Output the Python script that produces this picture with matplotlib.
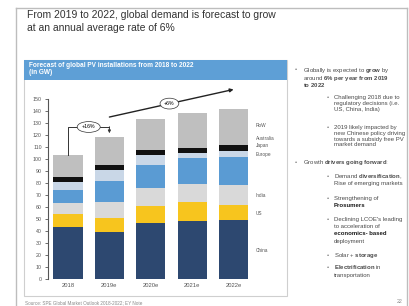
import numpy as np
import matplotlib
matplotlib.use("Agg")
import matplotlib.pyplot as plt
from matplotlib.patches import Rectangle

plt.rcParams['font.family'] = ['Liberation Sans', 'DejaVu Sans']
plt.rcParams['mathtext.fontset'] = 'custom'
plt.rcParams['mathtext.rm'] = 'Liberation Sans'
plt.rcParams['mathtext.it'] = 'Liberation Sans:italic'
plt.rcParams['mathtext.bf'] = 'Liberation Sans:bold'

# data (GW)
years = ['2018', '2019e', '2020e', '2021e', '2022e']
regions = ['China', 'US', 'India', 'Europe', 'Japan', 'Australia', 'RoW']
china = [43.5, 39, 46.5, 48, 49]
us = [10.5, 12, 14.5, 16, 13]
india = [9, 13, 14.5, 15, 16]
europe = [11, 18, 19.5, 22, 24]
japan = [7, 8.5, 8, 4, 4.5]
australia = [4, 4.5, 4.5, 4, 5.5]
row = [18, 23, 25.5, 29, 30]
series = [china, us, india, europe, japan, australia, row]
colors = ['#2d4870', '#f7c51e', '#d9d9d9', '#5a9bd3', '#c9d7e7', '#111111', '#bfbfbf']
label_y = [24, 55, 70, 104, 111, 117, 128]   # where the region names sit

W, H = 409, 306
fig = plt.figure(figsize=(W / 100, H / 100), dpi=100)

# background layer in pixel coords
bg = fig.add_axes([0, 0, 1, 1])
bg.set_xlim(0, W)
bg.set_ylim(H, 0)
bg.axis('off')

# slide frame
bg.plot([16, 16], [8, H], color='#bdbdbd', lw=1)
bg.plot([16, 407], [8, 8], color='#bdbdbd', lw=1)
bg.plot([407, 407], [8, H], color='#bdbdbd', lw=1)

bg.text(27, 18.5, 'From 2019 to 2022, global demand is forecast to grow',
        fontsize=7.5, color='#333333', va='baseline')
bg.text(27, 31, 'at an annual average rate of 6%',
        fontsize=7.5, color='#333333', va='baseline')

# chart panel
bg.add_patch(Rectangle((24, 60), 263, 236, fc='white', ec='#cfcfcf', lw=0.8))
bg.add_patch(Rectangle((24, 60), 263, 20, fc='#5e9fd6', ec='none'))
bg.text(29, 67, 'Forecast of global PV installations from 2018 to 2022',
        fontsize=4.7, color='white', fontweight='bold', va='baseline')
bg.text(29, 74, '(in GW)', fontsize=4.7, color='white', fontweight='bold', va='baseline')
bg.text(25, 304, 'Source: SPE Global Market Outlook 2018-2022; EY Note',
        fontsize=3.3, color='#8a8a8a', va='baseline')
bg.text(397, 303, '22', fontsize=3.8, color='#8a8a8a', va='baseline')

# right-hand bullets (level, y, text, all bold)
FS = 4.3
lines = [
    (2, 97.3, 'Challenging 2018 due to', False),
    (0, 103.3, 'regulatory decisions (i.e.', False),
    (0, 109.3, 'US, China, India)', False),
    (2, 126.7, '2019 likely impacted by', False),
    (0, 132.7, 'new Chinese policy driving', False),
    (0, 138.7, 'towards a subsidy free PV', False),
    (0, 144.7, 'market demand', False),
    (1, 162.3, r'Growth $\mathbf{drivers\ going\ forward}$:', False),
    (2, 176.5, r'Demand $\mathbf{diversification}$,', False),
    (0, 183.5, 'Rise of emerging markets', False),
    (2, 198.3, 'Strengthening of', False),
    (0, 205.0, 'Prosumers', True),
    (2, 219.3, "Declining LCOE's leading", False),
    (0, 226.0, 'to acceleration of', False),
    (0, 233.3, 'economics- based', True),
    (0, 240.7, 'deployment', False),
    (2, 255.0, r'Solar + $\mathbf{storage}$', False),
    (2, 267.5, r'$\mathbf{Electrification}$ in', False),
    (0, 275.0, 'transportation', False),
]

# first bullet as one three-line block
bg.text(295, 71.3, '\u2022', fontsize=FS, color='#777777', va='baseline')
bg.text(303, 66.3,
        'Globally is expected to $\\mathbf{grow}$ by\n'
        'around $\\mathbf{6\\%\\ per\\ year\\ from\\ 2019}$\n'
        '$\\mathbf{to\\ 2022}$',
        fontsize=FS, va='top', color='#4a4a4a', linespacing=0.74)

level = 1
for bullet, y, txt, bold in lines:
    if bullet:
        level = bullet
    bx, tx = (295, 303) if level == 1 else (327, 334)
    if bullet:
        bg.text(bx, y + 1.8, '\u2022', fontsize=FS, color='#777777', va='baseline')
    bg.text(tx, y + 1.8, txt, fontsize=FS, va='baseline',
            fontweight='bold' if bold else 'normal',
            color='#1a1a1a' if bold else '#4a4a4a')

# the chart
ax = fig.add_axes([48 / W, (H - 279) / H, 202 / W, 194 / H])
ax.patch.set_alpha(0)
x = np.arange(len(years))
bottom = np.zeros(len(years))
for vals, c in zip(series, colors):
    ax.bar(x, vals, 0.71, bottom=bottom, color=c, zorder=2)
    bottom += np.array(vals)

ax.set_xlim(-0.483, 4.396)
ax.set_ylim(0, 161.7)
ax.set_yticks(range(0, 151, 10))
ax.spines['left'].set_bounds(0, 150)
ax.spines['left'].set_color('#555555')
ax.spines['left'].set_linewidth(0.8)
for s in ['top', 'right', 'bottom']:
    ax.spines[s].set_visible(False)
ax.tick_params(axis='y', labelsize=3.8, colors='#555555', length=2.5, width=0.6, pad=2)
ax.set_xticks(x)
ax.set_xticklabels(years)
ax.tick_params(axis='x', labelsize=4.2, colors='#555555', length=0, pad=3)

for name, y in zip(regions, label_y):
    ax.text(4.54, y, name, fontsize=3.4, color='#555555', va='center', clip_on=False)

# +16% bracket from 2018 to 2019e
tot = bottom
ax.plot([0, 0, 1], [tot[0], 126.7, 126.7], color='#333333', lw=0.7, zorder=3)
ax.annotate('', xy=(1, tot[1] + 3.5), xytext=(1, 126.9),
            arrowprops=dict(arrowstyle='-|>', color='#333333', lw=0.7,
                            mutation_scale=4, shrinkA=0, shrinkB=0))
ax.text(0.5, 126.7, '+16%', fontsize=3.8, ha='center', va='center', zorder=4,
        bbox=dict(boxstyle='ellipse,pad=0.25', fc='white', ec='#333333', lw=0.5))

# +6% trend arrow from 2019e to 2022e
ax.annotate('', xy=(4, 158), xytext=(1, 135), annotation_clip=False,
            arrowprops=dict(arrowstyle='-|>', color='#222222', lw=1.0,
                            mutation_scale=5, shrinkA=0, shrinkB=0))
ax.text(2.45, 146.2, '+6%', fontsize=3.8, ha='center', va='center', zorder=4,
        bbox=dict(boxstyle='ellipse,pad=0.25', fc='white', ec='#333333', lw=0.5))

fig.savefig('out.png', dpi=100)
